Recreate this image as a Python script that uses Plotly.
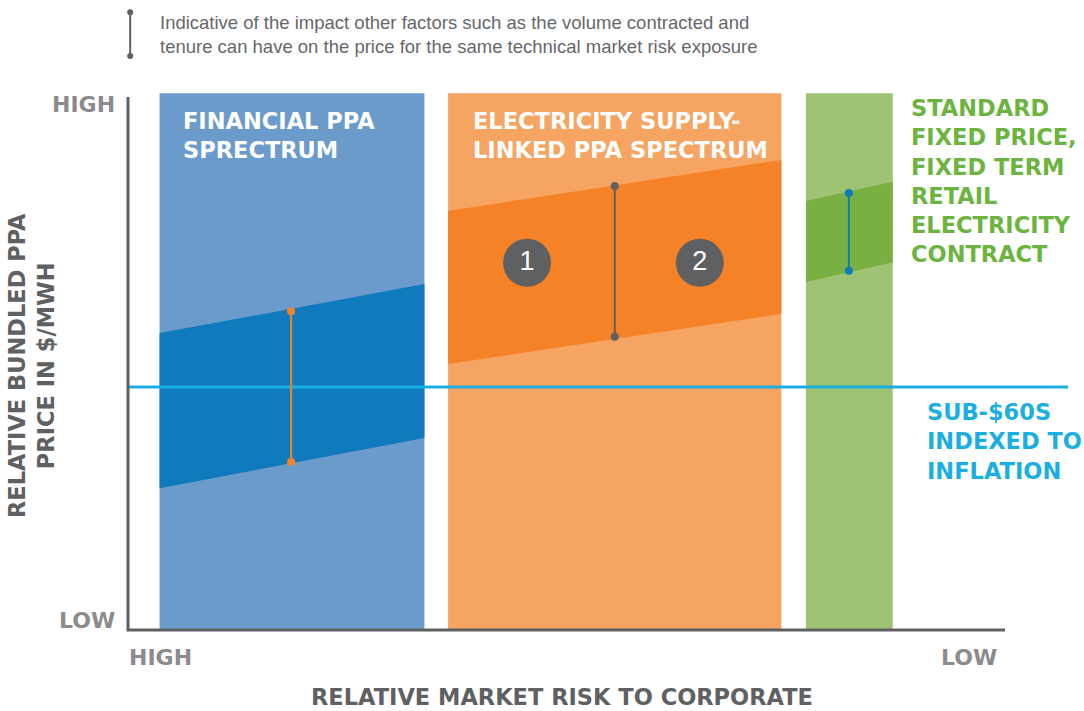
import plotly.graph_objects as go

# ---- data (conceptual units: x = market risk position 0..100, y = relative price 0..100) ----
column_names = ["Financial PPA", "Electricity supply-linked PPA", "Standard retail"]
column_x0 = [3.6, 36.5, 77.3]
column_x1 = [33.8, 74.5, 87.2]
column_top = [100.7, 100.7, 100.7]
column_bottom = [0.0, 0.0, 0.0]

band_left_top = [55.7, 78.6, 80.5]
band_left_bottom = [26.6, 49.9, 65.3]
band_right_top = [64.9, 88.2, 84.1]
band_right_bottom = [36.0, 59.3, 69.0]

range_x = [18.6, 55.5, 82.2]
range_high = [59.8, 83.3, 82.0]
range_low = [31.5, 55.0, 67.4]

circle_x = [45.5, 65.2]
circle_y = [68.9, 68.9]
circle_labels = ["1", "2"]

benchmark_price = 45.6
benchmark_x_end = 107.2

legend_x = 0.25
legend_y = [115.9, 107.7]

# ---- styles ----
light_colors = ["#6a9bcb", "#f6a461", "#9dc373"]
dark_colors = ["#0f7bbd", "#f58226", "#78b042"]
range_colors = ["#f58226", "#5f6062", "#0f7bbd"]
axis_gray = "#5f6062"
label_gray = "#8b8b8d"
cyan = "#1aaee3"
green_text = "#6db33f"
bold_font = "DejaVu Sans"

fig = go.Figure()

for i in range(3):
    x0, x1 = column_x0[i], column_x1[i]
    fig.add_trace(go.Scatter(
        x=[x0, x1, x1, x0, x0], y=[column_bottom[i], column_bottom[i], column_top[i], column_top[i], column_bottom[i]],
        fill="toself", fillcolor=light_colors[i], line=dict(width=0), mode="lines", hoverinfo="skip", showlegend=False))
    fig.add_trace(go.Scatter(
        x=[x0, x1, x1, x0, x0],
        y=[band_left_bottom[i], band_right_bottom[i], band_right_top[i], band_left_top[i], band_left_bottom[i]],
        fill="toself", fillcolor=dark_colors[i], line=dict(width=0), mode="lines", hoverinfo="skip", showlegend=False))

# benchmark line
fig.add_trace(go.Scatter(x=[0, benchmark_x_end], y=[benchmark_price, benchmark_price], mode="lines",
                         line=dict(color=cyan, width=3), hoverinfo="skip", showlegend=False))

# range bars
for i in range(3):
    fig.add_trace(go.Scatter(x=[range_x[i], range_x[i]], y=[range_low[i], range_high[i]], mode="lines+markers",
                             line=dict(color=range_colors[i], width=2), marker=dict(size=8, color=range_colors[i]),
                             hoverinfo="skip", showlegend=False))

# numbered circles
fig.add_trace(go.Scatter(x=circle_x, y=circle_y, mode="markers+text", text=circle_labels,
                         textposition="middle center", textfont=dict(color="white", size=27, family="Liberation Sans"),
                         marker=dict(size=48, color="#5f6062"), hoverinfo="skip", showlegend=False))

# axes lines
fig.add_trace(go.Scatter(x=[0, 0, 100], y=[100, 0, 0], mode="lines", line=dict(color=axis_gray, width=3),
                         hoverinfo="skip", showlegend=False))

# legend indicator
fig.add_trace(go.Scatter(x=[legend_x, legend_x], y=legend_y, mode="lines+markers",
                         line=dict(color=axis_gray, width=2), marker=dict(size=6, color=axis_gray),
                         hoverinfo="skip", showlegend=False))

W, H = 1084, 711

def ann(text, px, py, color, size, xanchor="left", yanchor="middle", family=bold_font, bold=True, textangle=0, align="left"):
    t = f"<b>{text}</b>" if bold else text
    fig.add_annotation(text=t, x=px / W, y=1 - py / H, xref="paper", yref="paper", showarrow=False,
                       xanchor=xanchor, yanchor=yanchor, align=align, textangle=textangle,
                       font=dict(color=color, size=size, family=family))

ann("Indicative of the impact other factors such as the volume contracted and<br>tenure can have on the price for the same technical market risk exposure",
    158, 35, "#66676a", 18.5, family="Liberation Sans", bold=False)

ann("HIGH", 117, 104, label_gray, 22, xanchor="right")
ann("LOW", 117, 620, label_gray, 22, xanchor="right")
ann("HIGH", 127, 657, label_gray, 22, xanchor="left")
ann("LOW", 999, 657, label_gray, 22, xanchor="right")
ann("RELATIVE MARKET RISK TO CORPORATE", 562, 697, axis_gray, 22.5, xanchor="center")
ann("RELATIVE BUNDLED PPA<br>PRICE IN $/MWH", 31, 366, axis_gray, 22.5, xanchor="center", textangle=-90, align="center")

ann("FINANCIAL PPA<br>SPRECTRUM", 181, 135, "white", 22.5)
ann("ELECTRICITY SUPPLY-<br>LINKED PPA SPECTRUM", 471, 135, "white", 22.5)
ann("STANDARD<br>FIXED PRICE,<br>FIXED TERM<br>RETAIL<br>ELECTRICITY<br>CONTRACT", 909, 181, green_text, 22.5)
ann("SUB-$60S<br>INDEXED TO<br>INFLATION", 925, 441, cyan, 22.5)

fig.update_layout(
    width=W, height=H, margin=dict(l=0, r=0, t=0, b=0),
    paper_bgcolor="white", plot_bgcolor="white",
    xaxis=dict(range=[-128 / 8.77, (1084 - 128) / 8.77], visible=False, fixedrange=True),
    yaxis=dict(range=[-(711 - 630) / 5.33, 630 / 5.33], visible=False, fixedrange=True),
)

fig.write_html("out.html", config={"displayModeBar": False},
               post_script="document.body.style.margin='0';document.body.style.overflow='hidden';")
